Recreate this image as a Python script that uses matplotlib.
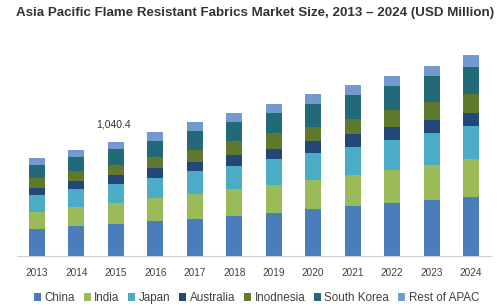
import matplotlib
matplotlib.use("Agg")
import matplotlib.pyplot as plt
import numpy as np

years = ["2013", "2014", "2015", "2016", "2017", "2018", "2019", "2020", "2021", "2022", "2023", "2024"]
series_names = ["China", "India", "Japan", "Australia", "Inodnesia", "South Korea", "Rest of APAC"]
china = [241, 268, 292, 317, 338, 365, 392, 423, 454, 478, 511, 538]
india = [161, 176, 186, 207, 228, 244, 256, 267, 280, 307, 317, 341]
japan = [155, 164, 179, 188, 207, 213, 235, 249, 258, 274, 295, 307]
australia = [64, 73, 79, 86, 82, 95, 94, 104, 119, 113, 116, 119]
indonesia = [86, 94, 91, 100, 110, 128, 141, 133, 137, 158, 167, 173]
south_korea = [121, 122, 146, 151, 173, 173, 185, 204, 216, 216, 235, 246]
rest_apac = [61, 67, 67, 82, 79, 82, 85, 94, 94, 97, 94, 104]
annot_year = "2015"
annot_text = "1,040.4"

colors = ["#4a7ebb", "#9bbb59", "#4bacc6", "#24477a", "#5f7a2c", "#226a78", "#7299d0"]

plt.rcParams['font.family'] = ['Liberation Sans', 'DejaVu Sans']

fig = plt.figure(figsize=(5.0, 3.08), dpi=100)
ax = fig.add_axes([17.3/500, (308-255.7)/308, 473.4/500, 215.7/308])

x = np.arange(len(years))
data = [china, india, japan, australia, indonesia, south_korea, rest_apac]
bottom = np.zeros(len(years))
for name, vals, c in zip(series_names, data, colors):
    ax.bar(x, vals, width=0.405, bottom=bottom, color=c, label=name, linewidth=0)
    bottom += np.array(vals)

ax.set_xlim(-0.5, len(years) - 0.5)
ax.set_ylim(0, 215.7 * 9.126)

i = years.index(annot_year)
ax.annotate(annot_text, (x[i], bottom[i]), xytext=(-2, 9), textcoords="offset points",
            ha="center", va="bottom", fontsize=7.5, color="#333333")

ax.set_xticks(x)
ax.set_xticklabels(years, fontsize=7.2, color="#404040")
ax.tick_params(axis="x", length=0, pad=9)
ax.set_yticks([])
for s in ["top", "right", "left"]:
    ax.spines[s].set_visible(False)
ax.spines["bottom"].set_color("#d0d0d0")
ax.spines["bottom"].set_linewidth(0.8)

fig.text(0.51, 1 - 13/308, "Asia Pacific Flame Resistant Fabrics Market Size, 2013 \u2013 2024 (USD Million)",
         ha="center", va="center", fontsize=9.6, fontweight="bold", color="#333333")

leg = fig.legend(loc="center", bbox_to_anchor=(0.513, 1 - 298/308), ncol=7, frameon=False,
                 fontsize=8.4, handlelength=0.6, handleheight=0.6, handletextpad=0.3,
                 columnspacing=0.75, borderpad=0)
for t in leg.get_texts():
    t.set_color("#404040")

fig.savefig("out.png", dpi=100)
